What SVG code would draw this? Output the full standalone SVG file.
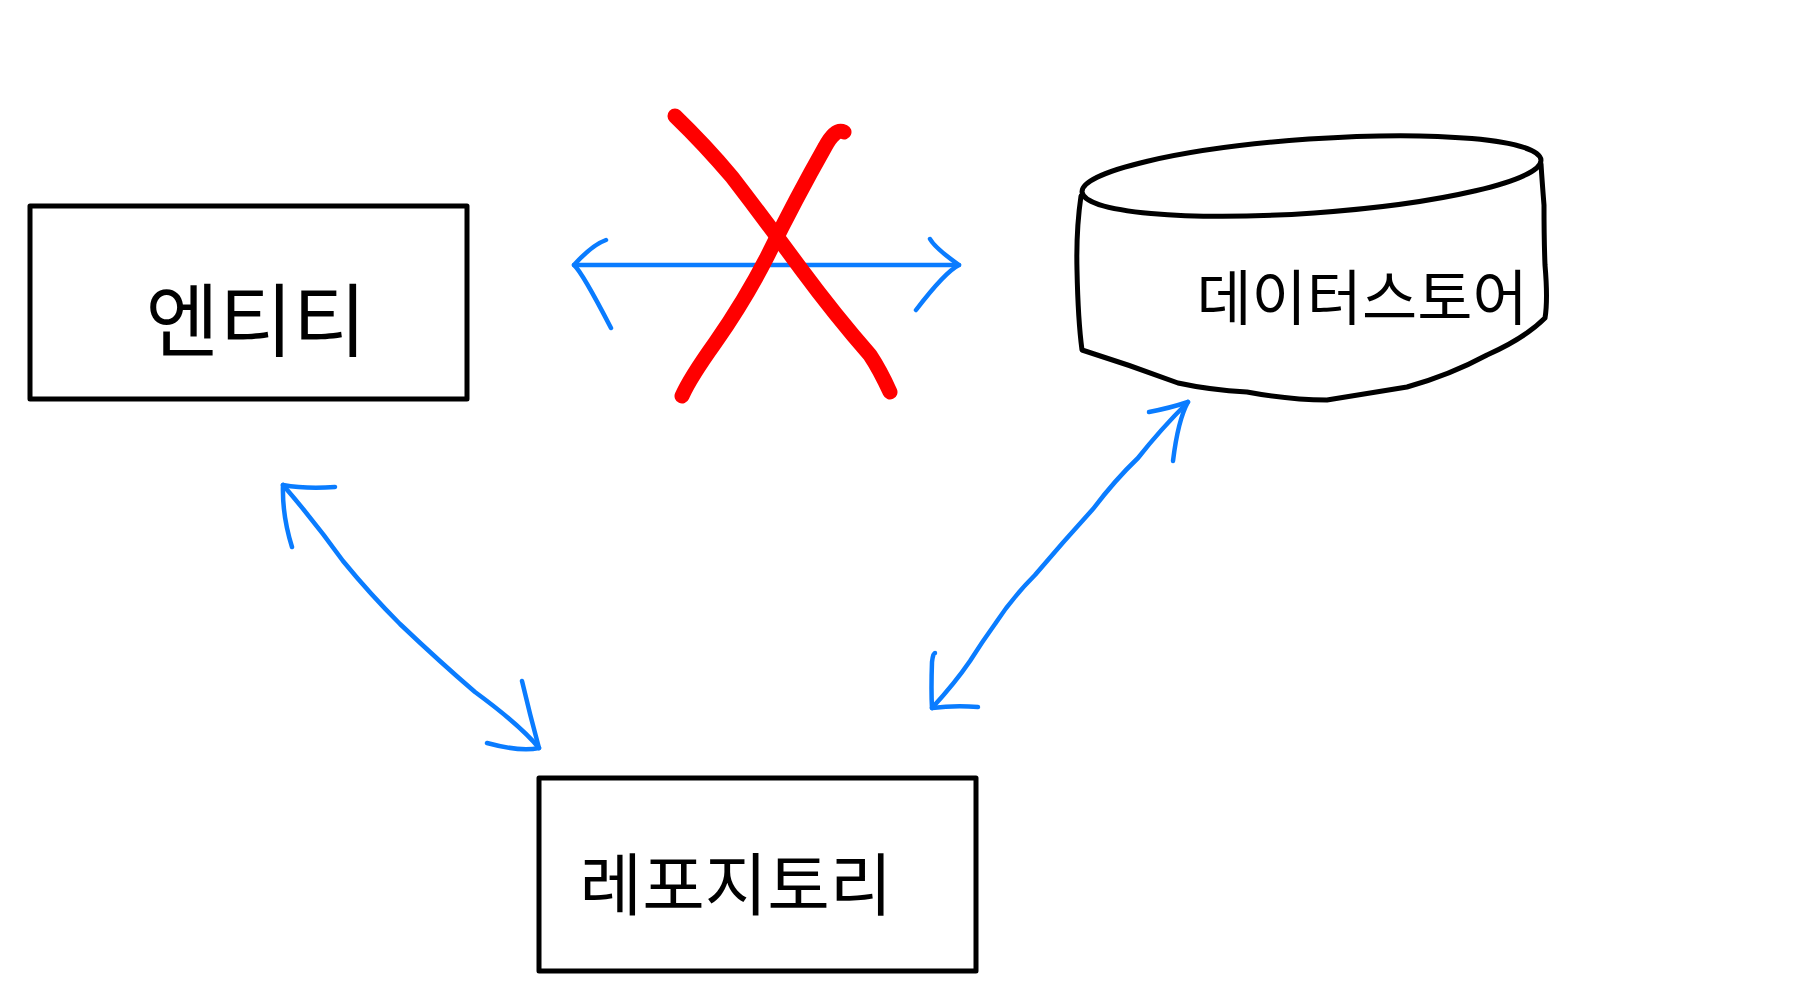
<svg xmlns="http://www.w3.org/2000/svg" width="1794" height="1000" viewBox="0 0 1794 1000">
<style>
.box{fill:none;stroke:#000;stroke-width:5;stroke-linejoin:round;stroke-linecap:round}
.lbl{font-family:"Noto Sans CJK KR","Noto Sans",sans-serif;fill:#000;text-anchor:middle}
.con{fill:none;stroke:#0a7cff;stroke-width:4.5;stroke-linecap:round;stroke-linejoin:round}
.cross{fill:none;stroke:#ff0000;stroke-width:15;stroke-linecap:round;stroke-linejoin:round}
</style>
<rect width="1794" height="1000" fill="#fff"/>
<g id="entity">
<rect class="box" x="30" y="206" width="437" height="193"/>
<text class="lbl" x="256" y="350" font-size="80">엔티티</text>
</g>
<g id="repository">
<rect class="box" x="539" y="778" width="437" height="193"/>
<text class="lbl" x="736" y="910" font-size="68">레포지토리</text>
</g>
<g id="datastore">
<ellipse class="box" cx="1311.5" cy="176" rx="230" ry="37" transform="rotate(-4 1311.5 176)"/>
<path class="box" d="M1081 196 Q1076 230 1077 270 Q1078 320 1082 350 Q1130 365 1178 383 Q1210 390 1247 392 Q1290 400 1327 400 Q1370 393 1407 387 Q1450 375 1487 355 Q1525 338 1545 318 Q1548 300 1545 265 Q1544 240 1544 205 Q1542 180 1541 164"/>
<text class="lbl" x="1362" y="320" font-size="60">데이터스토어</text>
</g>
<g id="connectors">
<path class="con" d="M574 265 L959 265"/>
<path class="con" d="M606 240 Q592 245 574 265 Q582 272 611 328"/>
<path class="con" d="M930 239 Q935 248 959 265 Q945 272 916 310"/>
<path class="con" d="M283 485 Q315 522 343 561 Q370 594 400 624 Q440 662 475 692 Q520 725 539 748"/>
<path class="con" d="M335 487 Q305 489 283 485 Q282 515 292 547"/>
<path class="con" d="M522 681 Q530 715 539 748 Q520 752 487 743"/>
<path class="con" d="M932 708 Q955 683 970 661 Q982 642 995 624 Q1012 598 1035 575 Q1063 542 1093 509 Q1115 480 1138 458 Q1160 430 1188 402"/>
<path class="con" d="M978 707 Q955 705 932 708 Q931 690 932 662 Q933 653 935 653"/>
<path class="con" d="M1149 412 Q1170 408 1188 402 Q1178 420 1173 461"/>
</g>
<g id="cross">
<path class="cross" d="M675 116 Q705 145 732 177 Q765 220 801 269 Q835 315 870 355 Q880 370 890 392"/>
<path class="cross" d="M844 132 Q835 128 825 147 Q795 200 767 257 Q745 300 715 343 Q690 378 682 396"/>
</g>
</svg>
